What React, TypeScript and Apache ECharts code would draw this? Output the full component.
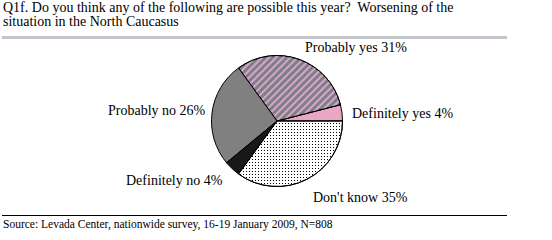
import React, { useEffect, useRef } from "react";
import * as echarts from "echarts";

const TITLE_LINES = [
  "Q1f. Do you think any of the following are possible this year?  Worsening of the",
  "situation in the North Caucasus",
];
const SOURCE = "Source: Levada Center, nationwide survey, 16-19 January 2009, N=808";
const CATEGORIES = ["Definitely yes", "Probably yes", "Probably no", "Definitely no", "Don't know"];
const VALUES = [4, 31, 26, 4, 35];

// label anchor positions (left x, middle y)
const LABEL_POS: [number, number][] = [
  [352, 113],
  [305, 47],
  [108, 110],
  [126, 180],
  [313, 197],
];

const FONT = "'Liberation Serif', 'Times New Roman', serif";

export default function App() {
  const ref = useRef<HTMLDivElement>(null);
  useEffect(() => {
    document.body.style.margin = "0";
    const chart = echarts.init(ref.current!, null, { renderer: "svg" });
    const styles: any[] = [
      { color: "#e8a8c4" },
      {
        color: "#808080",
        decal: {
          symbol: "rect",
          color: "#d4a4d4",
          backgroundColor: "#808080",
          dashArrayX: [1, 0],
          dashArrayY: [2, 3],
          rotation: -Math.PI / 4,
        },
      },
      { color: "#808080" },
      { color: "#181818" },
      {
        color: "#ffffff",
        decal: {
          symbol: "rect",
          symbolSize: 1,
          color: "#000000",
          backgroundColor: "#ffffff",
          dashArrayX: [1, 2],
          dashArrayY: [1, 2],
          rotation: 0,
        },
      },
    ];
    chart.setOption({
      animation: false,
      aria: { enabled: false, decal: { show: true } },
      graphic: [
        {
          type: "text",
          left: 3,
          top: 0,
          style: { text: TITLE_LINES[0], font: `14px ${FONT}`, fill: "#000", lineHeight: 14 },
        },
        {
          type: "text",
          left: 3,
          top: 14,
          style: { text: TITLE_LINES[1], font: `14px ${FONT}`, fill: "#000", lineHeight: 14 },
        },
        { type: "rect", shape: { x: 2, y: 36, width: 505, height: 3 }, style: { fill: "#c4c4cc" } },
        { type: "line", shape: { x1: 2, y1: 215.5, x2: 507, y2: 215.5 }, style: { stroke: "#000", lineWidth: 1 } },
        {
          type: "text",
          left: 3,
          top: 218,
          style: { text: SOURCE, font: `11.5px ${FONT}`, fill: "#000" },
        },
      ],
      series: [
        {
          type: "pie",
          center: [277, 121],
          radius: 65.5,
          startAngle: 0,
          clockwise: false,
          avoidLabelOverlap: false,
          itemStyle: { borderColor: "#000", borderWidth: 1 },
          label: {
            show: true,
            formatter: (p: any) => `${p.name} ${p.value}%`,
            fontFamily: FONT,
            fontSize: 14,
            color: "#000",
          },
          labelLine: { show: false },
          labelLayout: (p: any) => {
            const [x, y] = LABEL_POS[p.dataIndex];
            return { x, y, align: "left", verticalAlign: "middle" };
          },
          emphasis: { disabled: true },
          data: CATEGORIES.map((name, i) => ({ name, value: VALUES[i], itemStyle: styles[i] })),
        },
      ],
    });
    return () => chart.dispose();
  }, []);
  return <div ref={ref} style={{ position: "absolute", left: 0, top: 0, width: 552, height: 240 }} />;
}
